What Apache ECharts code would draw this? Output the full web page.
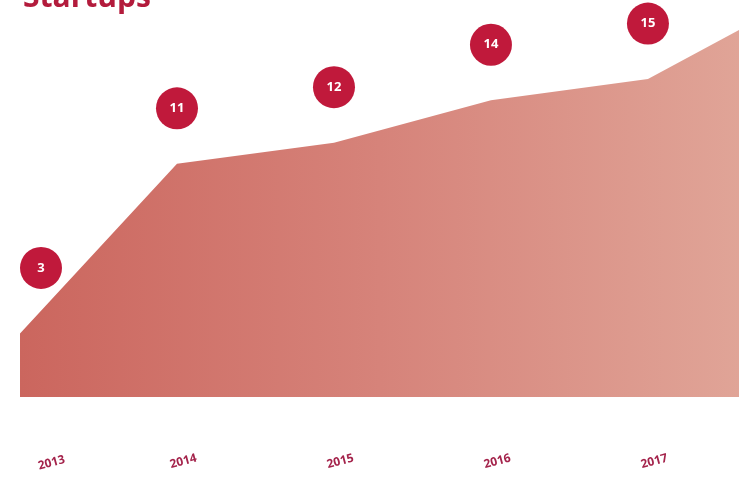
<!DOCTYPE html>
<html>
<head>
<meta charset="utf-8">
<script src="https://cdn.jsdelivr.net/npm/echarts@6/dist/echarts.min.js"></script>
<style>
html,body{margin:0;padding:0;background:#fff;}
#chart{width:739px;height:479px;}
</style>
</head>
<body>
<div id="chart"></div>
<script>
const titleText = 'Startups';
const years = [2013, 2014, 2015, 2016, 2017, 2018];
const startups = [3, 11, 12, 14, 15, 19];

const chart = echarts.init(document.getElementById('chart'), null, {renderer: 'canvas'});

const seriesData = startups.map(function (v, i) {
  const item = {value: [years[i], v]};
  if (i === 0) item.label = {offset: [21, -10]};
  return item;
});

chart.setOption({
  animation: false,
  backgroundColor: '#ffffff',
  title: {
    text: titleText,
    left: 18,
    top: -22,
    textStyle: {color: '#b31b3c', fontSize: 30, fontWeight: 'bold', fontFamily: 'Open Sans'}
  },
  grid: {left: 20, right: 0, top: 0, bottom: 82, containLabel: false, outerBoundsMode: 'none'},
  xAxis: {
    type: 'value',
    min: 2013,
    max: 2017.58,
    interval: 1,
    axisLine: {show: false},
    axisTick: {show: false},
    splitLine: {show: false},
    axisLabel: {
      rotate: 15,
      align: 'center',
      verticalAlign: 'middle',
      margin: 64,
      color: '#a4234b',
      fontSize: 12,
      fontWeight: 'bold',
      fontFamily: 'Open Sans',
      showMaxLabel: false,
      formatter: function (val) {
        if (val !== Math.round(val)) return '';
        return val === years[0] ? '{f|' + val + '}' : '{n|' + val + '}';
      },
      rich: {
        f: {padding: [20, 0, 0, 60], color: '#a4234b', fontSize: 12, fontWeight: 'bold', fontFamily: 'Open Sans'},
        n: {padding: [4, 0, 0, 12], color: '#a4234b', fontSize: 12, fontWeight: 'bold', fontFamily: 'Open Sans'}
      }
    }
  },
  yAxis: {
    type: 'value',
    min: 0,
    max: 18.73,
    show: false,
    splitLine: {show: false}
  },
  series: [{
    type: 'line',
    data: seriesData,
    symbol: 'circle',
    symbolSize: 1,
    showSymbol: true,
    itemStyle: {color: 'rgba(0,0,0,0)'},
    lineStyle: {width: 0},
    areaStyle: {
      opacity: 1,
      color: {
        type: 'linear', x: 20, y: 0, x2: 739, y2: 0, global: true,
        colorStops: [{offset: 0, color: '#cb665e'}, {offset: 0.5, color: '#d6837a'}, {offset: 1, color: '#e0a497'}]
      }
    },
    label: {
      show: true,
      position: 'top',
      distance: 55,
      width: 42,
      height: 42,
      lineHeight: 42,
      align: 'center',
      verticalAlign: 'middle',
      borderRadius: 21,
      backgroundColor: '#c0193b',
      color: '#ffffff',
      fontSize: 13,
      fontWeight: 'bold',
      fontFamily: 'Open Sans'
    }
  }]
});
</script>
</body>
</html>
